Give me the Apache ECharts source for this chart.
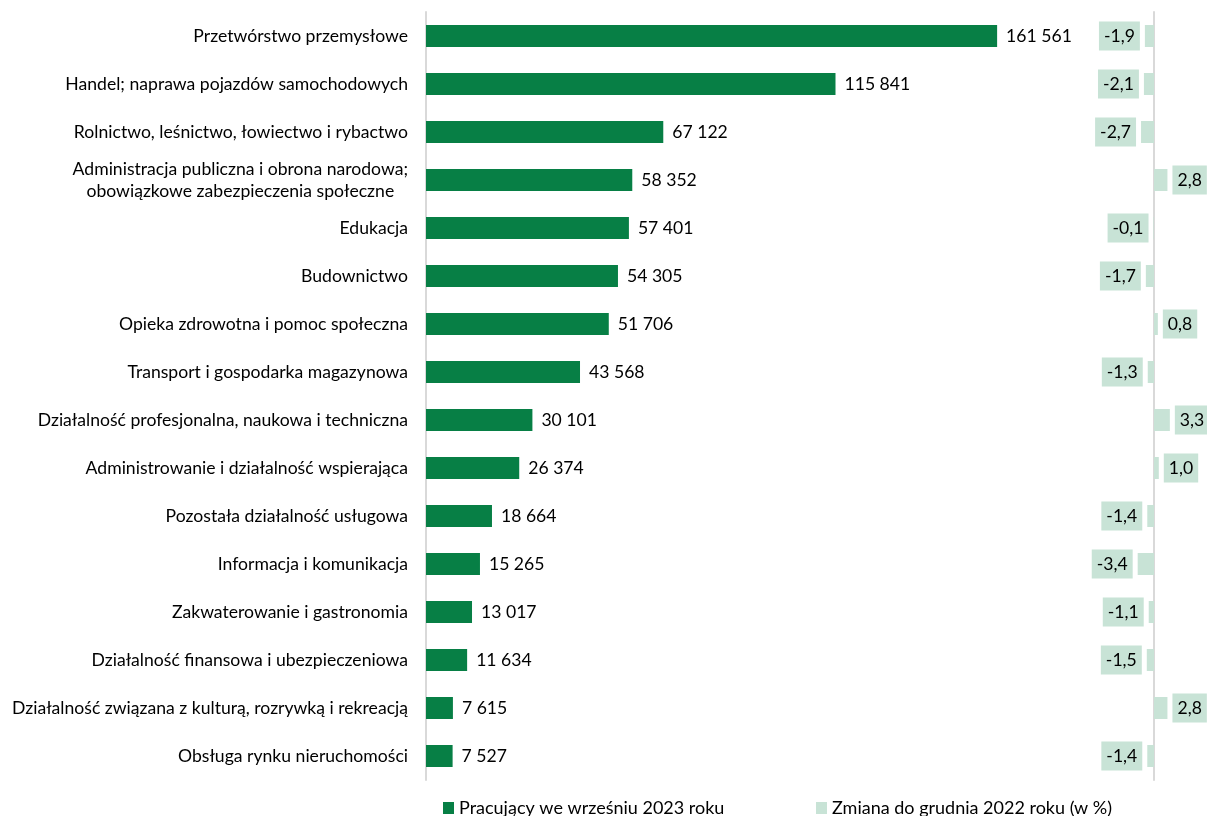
<!DOCTYPE html>
<html>
<head>
<meta charset="utf-8">
<title>Pracujący według sekcji</title>
<script src="https://cdn.jsdelivr.net/npm/echarts@6/dist/echarts.min.js"></script>
<style>
  html, body { margin: 0; padding: 0; background: #fff; }
  #chart { width: 1207px; height: 816px; }
</style>
</head>
<body>
<div id="chart"></div>
<script>
// sekcje PKD
const categories = [
  'Przetwórstwo przemysłowe',
  'Handel; naprawa pojazdów samochodowych',
  'Rolnictwo, leśnictwo, łowiectwo i rybactwo',
  'Administracja publiczna i obrona narodowa;\nobowiązkowe zabezpieczenia społeczne',
  'Edukacja',
  'Budownictwo',
  'Opieka zdrowotna i pomoc społeczna',
  'Transport i gospodarka magazynowa',
  'Działalność profesjonalna, naukowa i techniczna',
  'Administrowanie i działalność wspierająca',
  'Pozostała działalność usługowa',
  'Informacja i komunikacja',
  'Zakwaterowanie i gastronomia',
  'Działalność finansowa i ubezpieczeniowa',
  'Działalność związana z kulturą, rozrywką i rekreacją',
  'Obsługa rynku nieruchomości'
]
// pracujący we wrześniu 2023
const employed = [161561, 115841, 67122, 58352, 57401, 54305, 51706, 43568, 30101, 26374, 18664, 15265, 13017, 11634, 7615, 7527]
// zmiana do grudnia 2022 (w %)
const change = [-1.9, -2.1, -2.7, 2.8, -0.1, -1.7, 0.8, -1.3, 3.3, 1.0, -1.4, -3.4, -1.1, -1.5, 2.8, -1.4]

const seriesNames = ['Pracujący we wrześniu 2023 roku', 'Zmiana do grudnia 2022 roku (w %)']

const darkGreen = '#077F45'
const lightGreen = '#C8E3D6'
const axisGray = '#D9D9D9'
const font = 'Lato'
const fontSize = 17.6

const chart = echarts.init(document.getElementById('chart'))

const legendBase = {
  top: 799,
  padding: 0,
  itemWidth: 11,
  itemHeight: 12,
  icon: 'rect',
  textStyle: { fontFamily: font, fontSize: 18, lineHeight: 18, color: '#000' }
}

const option = {
  animation: false,
  textStyle: { fontFamily: font, color: '#000' },
  grid: [
    // wykres główny
    { left: 426, top: 12, width: 707, height: 768 },
    // zmiana w %
    { left: 1106, top: 12, width: 96, height: 768 }
  ],
  xAxis: [
    { gridIndex: 0, type: 'value', min: 0, max: 200000, show: false },
    { gridIndex: 1, type: 'value', min: -10, max: 10, show: false }
  ],
  yAxis: [
    {
      gridIndex: 0,
      type: 'category',
      inverse: true,
      data: categories,
      axisLine: { lineStyle: { color: axisGray, width: 2 } },
      axisTick: { show: false },
      axisLabel: {
        color: '#000',
        fontFamily: font,
        fontSize: fontSize,
        lineHeight: 22,
        margin: 18,
        formatter: function (value) {
          // linie wyśrodkowane względem siebie
          return value.split('\n').map(function (l) { return '{c|' + l + '}' }).join('\n')
        },
        rich: {
          c: { align: 'center', fontFamily: font, fontSize: fontSize, lineHeight: 22, color: '#000' }
        }
      }
    },
    {
      gridIndex: 1,
      type: 'category',
      inverse: true,
      data: categories,
      axisLine: { lineStyle: { color: axisGray, width: 2 } },
      axisTick: { show: false },
      axisLabel: { show: false }
    }
  ],
  legend: [
    Object.assign({ left: 443, data: [seriesNames[0]] }, legendBase),
    Object.assign({ left: 816, data: [seriesNames[1]] }, legendBase)
  ],
  series: [
    {
      name: seriesNames[0],
      type: 'bar',
      xAxisIndex: 0,
      yAxisIndex: 0,
      data: employed,
      barWidth: 22,
      itemStyle: { color: darkGreen },
      label: {
        show: true,
        position: 'right',
        distance: 9,
        color: '#000',
        fontFamily: font,
        fontSize: fontSize,
        formatter: function (p) {
          return String(p.value).replace(/\B(?=(\d{3})+(?!\d))/g, ' ')
        }
      }
    },
    {
      name: seriesNames[1],
      type: 'bar',
      xAxisIndex: 1,
      yAxisIndex: 1,
      data: change.map(function (v) {
        return { value: v, label: { position: v < 0 ? 'left' : 'right' } }
      }),
      barWidth: 22,
      itemStyle: { color: lightGreen },
      label: {
        show: true,
        distance: 5,
        color: '#000',
        fontFamily: font,
        fontSize: fontSize,
        lineHeight: 19,
        backgroundColor: lightGreen,
        padding: [5, 5, 5, 5],
        formatter: function (p) {
          return p.value.toFixed(1).replace('.', ',')
        }
      }
    }
  ]
}

chart.setOption(option)
</script>
</body>
</html>
